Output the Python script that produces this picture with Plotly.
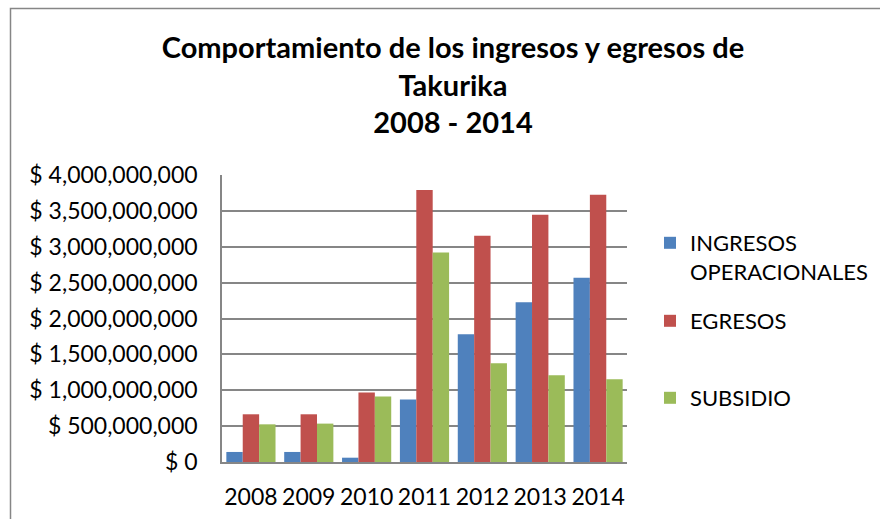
import plotly.graph_objects as go

years = ["2008", "2009", "2010", "2011", "2012", "2013", "2014"]
ingresos = [140e6, 140e6, 60e6, 870e6, 1780e6, 2228e6, 2567e6]
egresos = [665e6, 665e6, 967e6, 3790e6, 3153e6, 3447e6, 3726e6]
subsidio = [525e6, 535e6, 912e6, 2920e6, 1377e6, 1209e6, 1153e6]
tick_vals = [0, 500e6, 1000e6, 1500e6, 2000e6, 2500e6, 3000e6, 3500e6, 4000e6]
tick_text = ["$ 0", "$ 500,000,000", "$ 1,000,000,000", "$ 1,500,000,000",
             "$ 2,000,000,000", "$ 2,500,000,000", "$ 3,000,000,000",
             "$ 3,500,000,000", "$ 4,000,000,000"]

FONT = "Lato, 'Open Sans', sans-serif"
L, R, T, B = 222, 253, 175, 57
W, H = 880, 519
pw, ph = W - L - R, H - T - B

def px_x(x):
    return (x - L) / pw

def px_y(y):
    return (H - B - y) / ph

fig = go.Figure()
fig.add_bar(x=years, y=ingresos, name="INGRESOS<br>OPERACIONALES",
            marker=dict(color="#4F81BD", line=dict(width=0)), legend="legend")
fig.add_bar(x=years, y=egresos, name="EGRESOS",
            marker=dict(color="#C0504D", line=dict(width=0)), legend="legend2")
fig.add_bar(x=years, y=subsidio, name="SUBSIDIO",
            marker=dict(color="#9BBB59", line=dict(width=0)), legend="legend3")

leg_common = dict(font=dict(family=FONT, size=22, color="#000000"),
                  bgcolor="rgba(0,0,0,0)", itemwidth=30, valign="top",
                  xanchor="left", yanchor="top", x=px_x(650))

fig.update_layout(
    width=W, height=H,
    margin=dict(l=L, r=R, t=T, b=B, autoexpand=False),
    paper_bgcolor="white", plot_bgcolor="white",
    barmode="group", bargap=0.15, bargroupgap=0,
    title=dict(text="<b>Comportamiento de los ingresos y egresos de<br>Takurika<br>2008 - 2014</b>",
               font=dict(family=FONT, size=29, color="#000000"),
               x=453 / W, xref="container", xanchor="center",
               y=1 - 58 / H, yref="container", yanchor="top"),
    xaxis=dict(showgrid=False, showline=True, linecolor="#868686", linewidth=1.5,
               ticks="", tickfont=dict(family=FONT, size=23, color="#000000"),
               ticklabelstandoff=14),
    yaxis=dict(range=[0, 4000e6], tickvals=tick_vals, ticktext=tick_text,
               showgrid=True, gridcolor="#868686", gridwidth=1.5,
               showline=True, linecolor="#868686", linewidth=1.5,
               zeroline=False, ticks="",
               tickfont=dict(family=FONT, size=23, color="#000000"),
               ticklabelstandoff=18),
    showlegend=True,
    legend=dict(**leg_common, y=px_y(222)),
    legend2=dict(**leg_common, y=px_y(300)),
    legend3=dict(**leg_common, y=px_y(377)),
    shapes=[dict(type="rect", xref="paper", yref="paper",
                 x0=px_x(10.5), x1=px_x(900), y0=px_y(540), y1=px_y(8.5),
                 line=dict(color="#868686", width=1.5), fillcolor="rgba(0,0,0,0)",
                 layer="below")],
)

fig.write_html("out.html", config={"displayModeBar": False},
               post_script="document.body.style.margin='0';")
